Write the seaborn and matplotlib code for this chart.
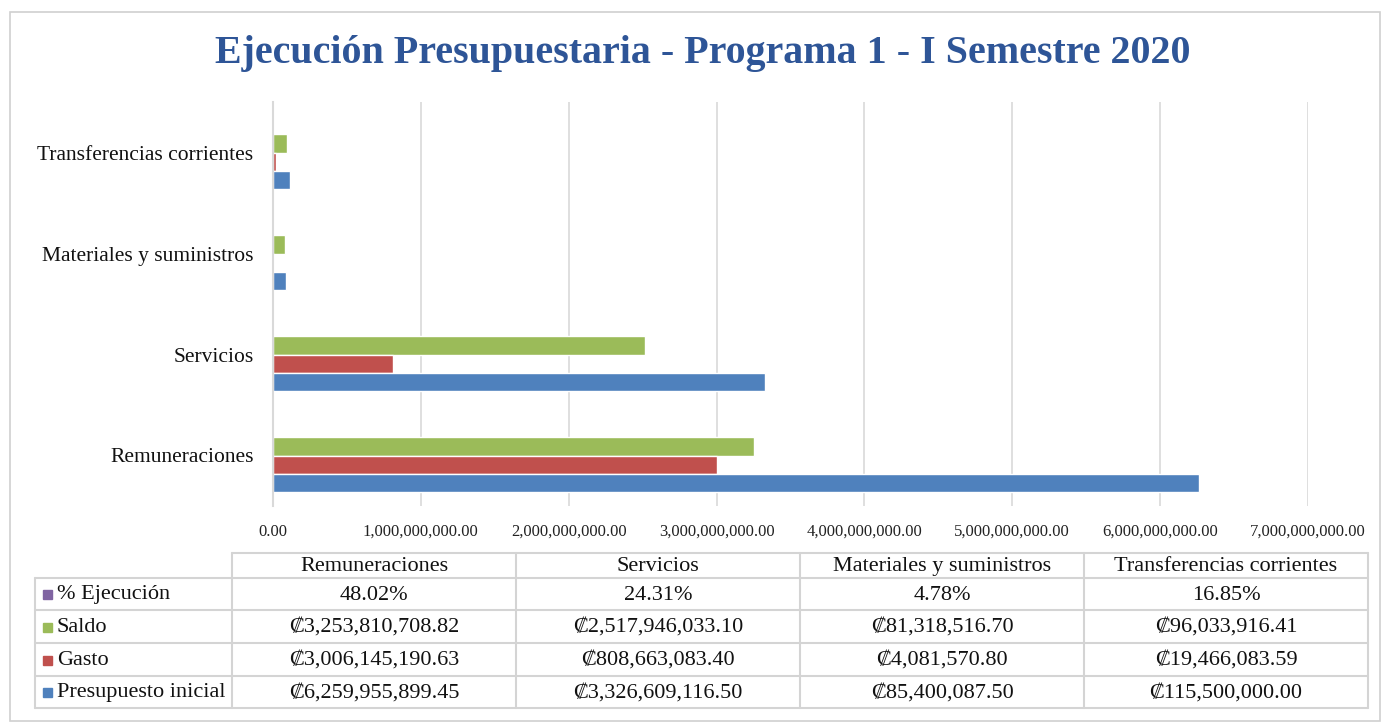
import numpy as np
import pandas as pd
import matplotlib
matplotlib.use("Agg")
import matplotlib.pyplot as plt
from matplotlib.patches import Rectangle
from matplotlib.ticker import FuncFormatter
import seaborn as sns

sns.set_style("white")
plt.rcParams['font.family'] = ['Liberation Serif', 'DejaVu Serif', 'DejaVu Sans']

# datos
categorias = ['Remuneraciones', 'Servicios', 'Materiales y suministros', 'Transferencias corrientes']
presupuesto = [6259955899.45, 3326609116.50, 85400087.50, 115500000.00]
gasto = [3006145190.63, 808663083.40, 4081570.80, 19466083.59]
saldo = [3253810708.82, 2517946033.10, 81318516.70, 96033916.41]
ejecucion = [0.4802, 0.2431, 0.0478, 0.1685]

series = ['% Ejecución', 'Saldo', 'Gasto', 'Presupuesto inicial']
colores = {'% Ejecución': '#8064A2', 'Saldo': '#9BBB59',
           'Gasto': '#C0504D', 'Presupuesto inicial': '#4F81BD'}

valores = {'% Ejecución': ejecucion, 'Saldo': saldo,
           'Gasto': gasto, 'Presupuesto inicial': presupuesto}

df = pd.DataFrame([(c, s, valores[s][i]) for s in series for i, c in enumerate(categorias)],
                  columns=['categoria', 'serie', 'valor'])

fig = plt.figure(figsize=(13.84, 7.23), dpi=100)
W, H = 1384, 723
ax = fig.add_axes([273 / W, 1 - 506 / H, (1308 - 273) / W, (506 - 102) / H])

sns.barplot(data=df, y='categoria', x='valor', hue='serie', hue_order=series,
            order=categorias[::-1], palette=colores, orient='h',
            width=0.72, gap=0, saturation=1, ax=ax, legend=False)

ax.set_xlim(0, 7e9)
ax.set_xticks(np.arange(0, 7.01e9, 1e9))
ax.xaxis.set_major_formatter(FuncFormatter(lambda v, p: f'{v:,.2f}'))
ax.grid(axis='x', color='#d9d9d9', linewidth=1.2)
ax.set_axisbelow(True)
for s in ['top', 'right', 'bottom']:
    ax.spines[s].set_visible(False)
ax.spines['left'].set_color('#d9d9d9')
ax.spines['left'].set_linewidth(1.5)
ax.tick_params(axis='x', length=0, pad=13, labelsize=12, labelcolor='#222222')
ax.tick_params(axis='y', length=0, pad=14, labelsize=15.5, labelcolor='#111111')
ax.set_xlabel('')
ax.set_ylabel('')

fig.suptitle('Ejecución Presupuestaria - Programa 1 - I Semestre 2020',
             x=0.508, y=1 - 54 / H, va='center', fontsize=28.8, fontweight='bold',
             color='#2E5597')

# marco exterior
fig.patches.append(Rectangle((10 / W, 0.003), 1 - 14 / W, 1 - 12 / H - 0.003,
                             transform=fig.transFigure, fill=False,
                             edgecolor='#d0d0d0', linewidth=1.2))

# tabla de datos
tx = fig.add_axes([0, 0, 1, 1])
tx.set_xlim(0, W)
tx.set_ylim(H, 0)
tx.axis('off')
tx.patch.set_alpha(0)

col_x = [35, 232, 516, 800, 1084, 1368]
row_y = [553, 578, 610, 643, 676, 708]
lc = '#d4d4d4'
# lineas horizontales
tx.plot([col_x[1], col_x[-1]], [row_y[0], row_y[0]], color=lc, lw=1.5)
for y in row_y[1:]:
    tx.plot([col_x[0], col_x[-1]], [y, y], color=lc, lw=1.5)
# lineas verticales
tx.plot([col_x[0], col_x[0]], [row_y[1], row_y[-1]], color=lc, lw=1.5)
for x in col_x[1:]:
    tx.plot([x, x], [row_y[0], row_y[-1]], color=lc, lw=1.5)

fs = 16
for j, c in enumerate(categorias):
    tx.text((col_x[j + 1] + col_x[j + 2]) / 2, (row_y[0] + row_y[1]) / 2 + 1, c,
            ha='center', va='center', fontsize=fs, color='#111111')

filas = ['% Ejecución', 'Saldo', 'Gasto', 'Presupuesto inicial']
for i, s in enumerate(filas):
    yc = (row_y[i + 1] + row_y[i + 2]) / 2 + 1
    tx.add_patch(Rectangle((43, yc - 5), 9, 9, color=colores[s]))
    tx.text(57, yc, s, ha='left', va='center', fontsize=fs, color='#111111')
    for j in range(len(categorias)):
        v = valores[s][j]
        txt = f'{v * 100:.2f}%' if s == '% Ejecución' else f'₡{v:,.2f}'
        tx.text((col_x[j + 1] + col_x[j + 2]) / 2, yc, txt,
                ha='center', va='center', fontsize=fs, color='#111111')

fig.savefig('out.png', dpi=100)
